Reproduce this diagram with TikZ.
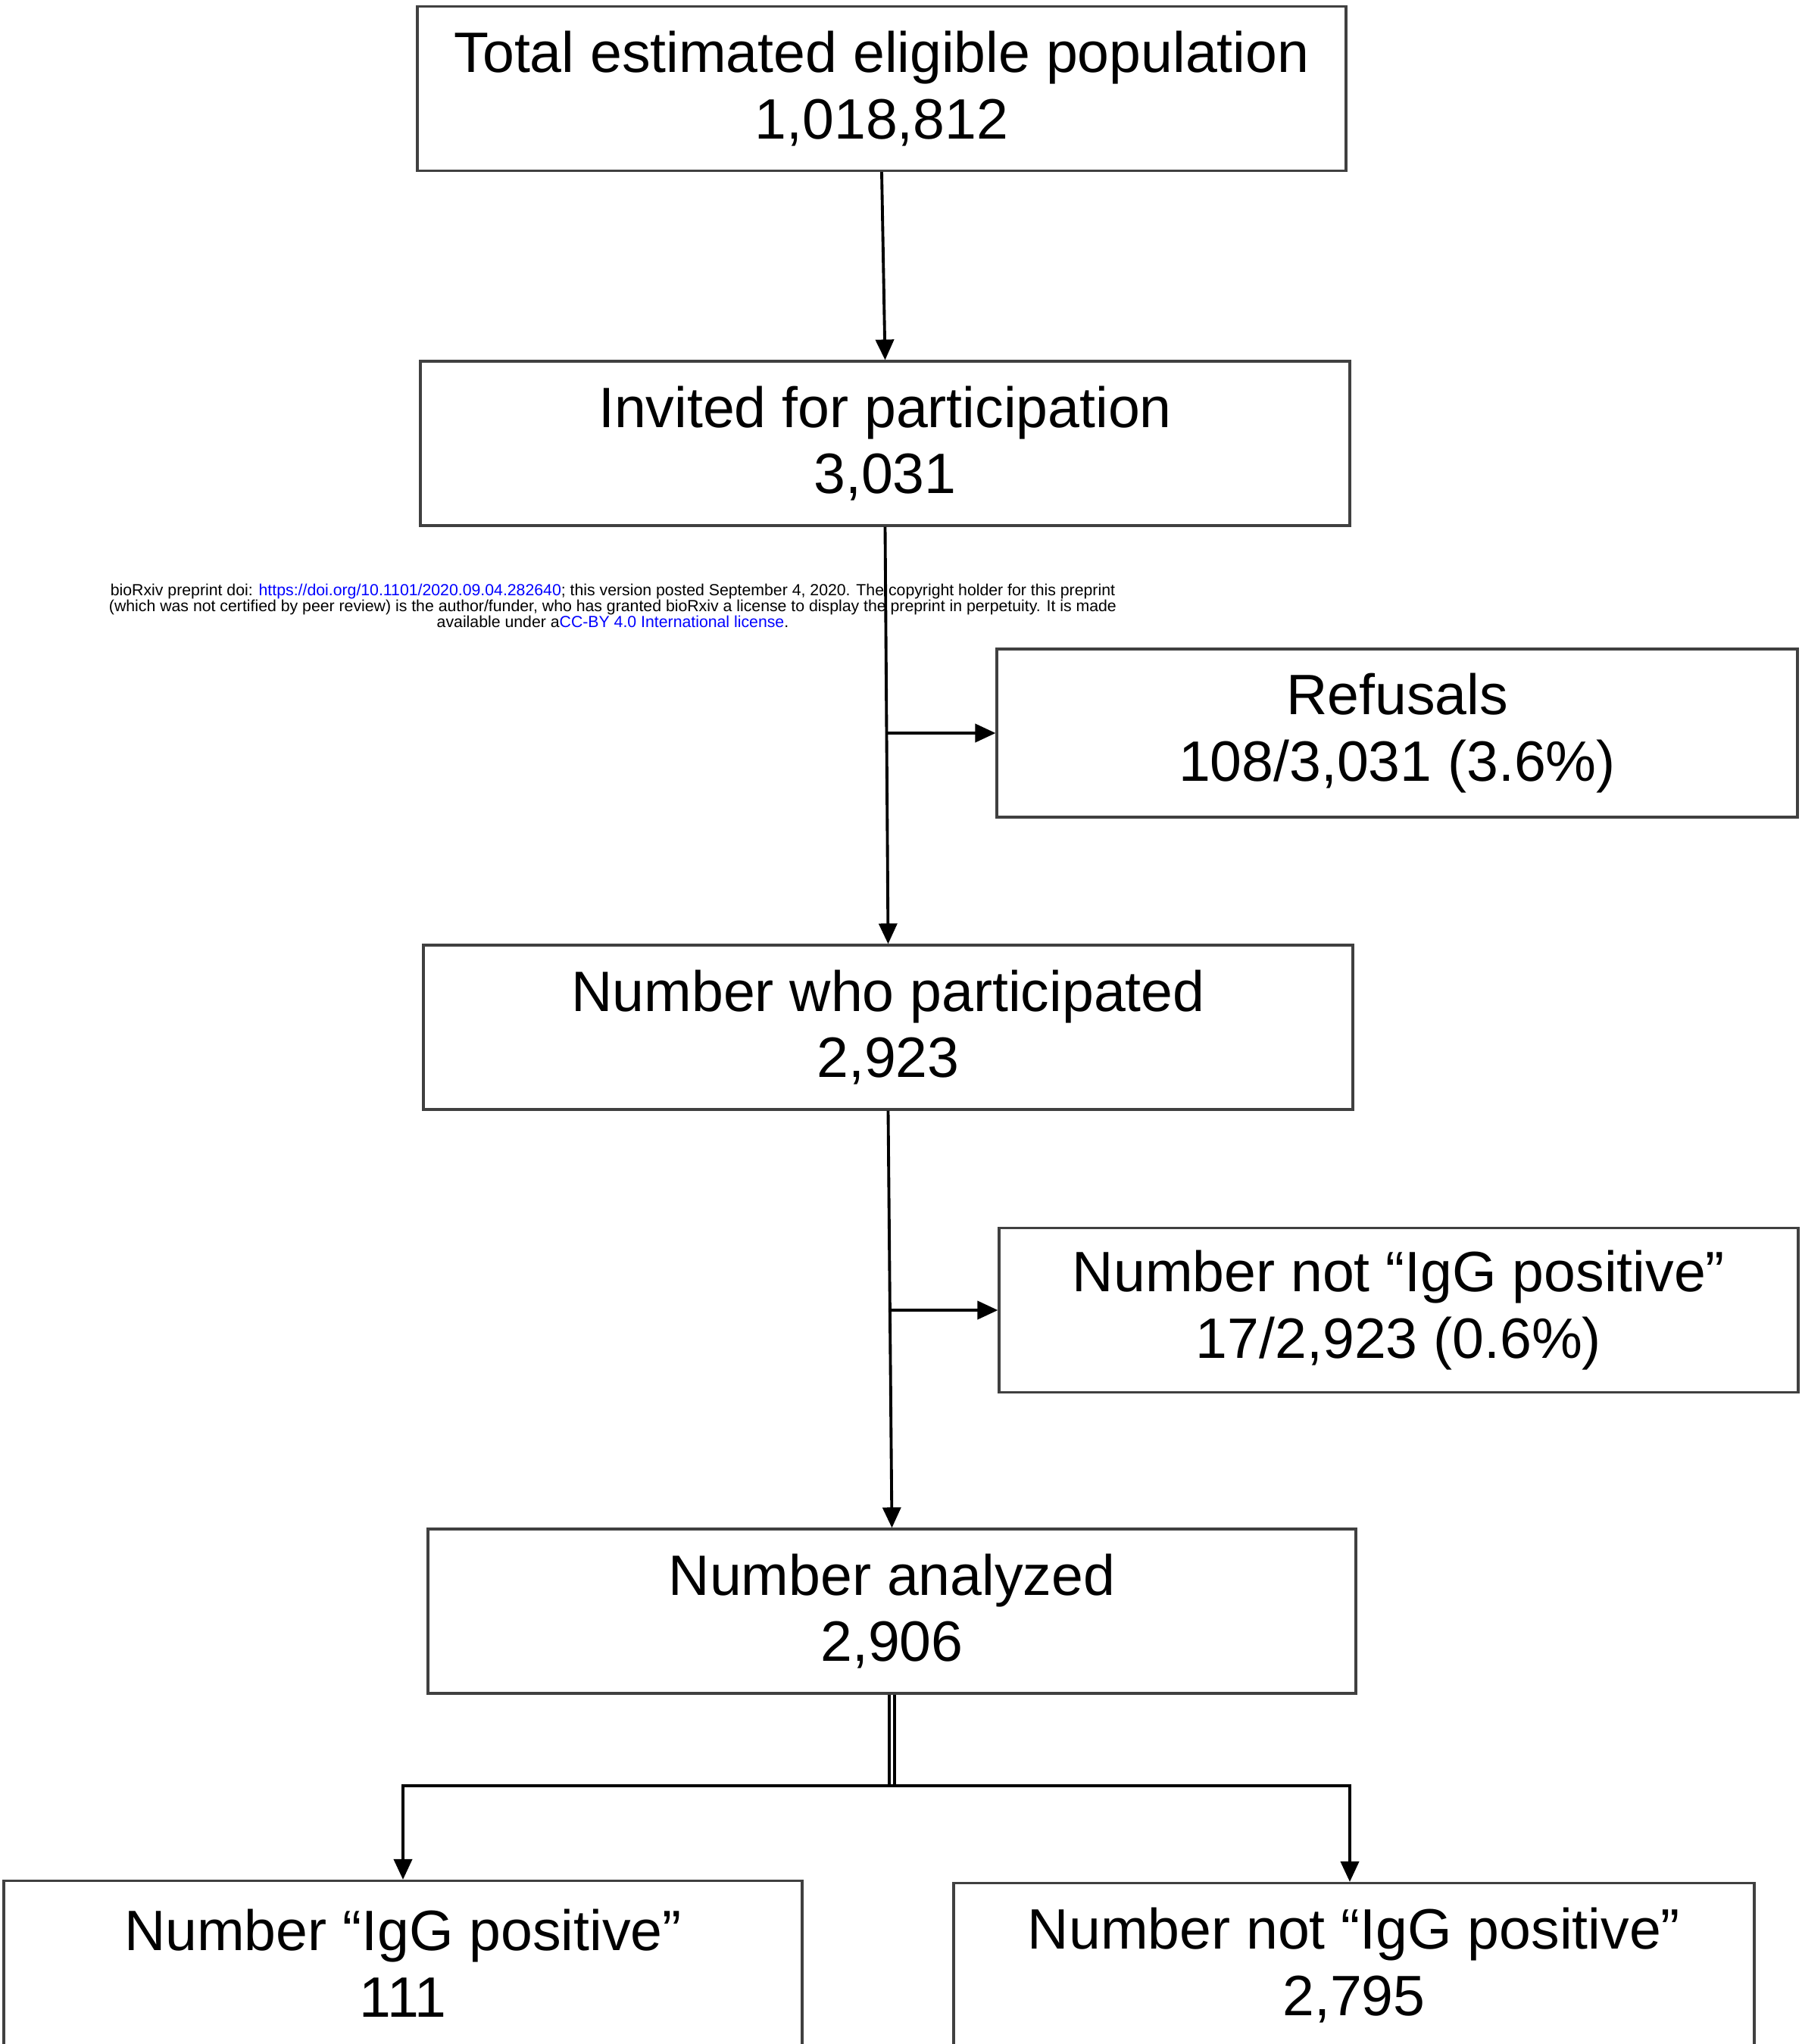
\documentclass[tikz,border=0pt]{standalone}
\usepackage{fontspec}
\setmainfont{Liberation Sans}
\usetikzlibrary{arrows.meta}
\begin{document}
\begin{tikzpicture}[
    flowbox/.style={rectangle, draw=black!75, line width=0.9pt, fill=white,
      minimum width=12.27cm, minimum height=2.17cm, align=center,
      inner sep=0pt, font=\fontsize{21.4}{25}\selectfont},
    sidebox/.style={flowbox, minimum width=10.57cm},
    line/.style={line width=1.1pt},
    arrow/.style={line, -{Triangle[length=0.27cm, width=0.24cm]}}
  ]
    \useasboundingbox (0,0) rectangle (23.79,-26.99);
    \clip (0,0) rectangle (23.79,-26.99);

    % Kopf
    \node[align=center, font=\fontsize{6.05}{5.95}\selectfont, inner sep=0pt]
      (header) at (8.09,-8.00)
      {bioRxiv preprint doi: \textcolor{blue}{https://doi.org/10.1101/2020.09.04.282640}; this version posted September 4, 2020. The copyright holder for this preprint\\
       (which was not certified by peer review) is the author/funder, who has granted bioRxiv a license to display the preprint in perpetuity. It is made\\
       available under a\textcolor{blue}{CC-BY 4.0 International license}.};

    % Kaesten
    \node[flowbox, minimum width=12.26cm] (eligible) at (11.64,-1.17)
      {Total estimated eligible population\\1,018,812};
    \node[flowbox] (invited) at (11.685,-5.855)
      {Invited for participation\\3,031};
    \node[sidebox, minimum height=2.22cm] (refusals) at (18.445,-9.68)
      {Refusals\\108/3,031 (3.6\%)};
    \node[flowbox] (participated) at (11.725,-13.565)
      {Number who participated\\2,923};
    \node[sidebox, minimum width=10.55cm] (notpositive) at (18.465,-17.30)
      {Number not “IgG positive”\\17/2,923 (0.6\%)};
    \node[flowbox, minimum width=12.25cm] (analyzed) at (11.775,-21.275)
      {Number analyzed\\2,906};
    \node[sidebox, minimum width=10.54cm] (igpos) at (5.32,-25.92)
      {Number “IgG positive”\\111};
    \node[sidebox] (igneg) at (17.875,-25.95)
      {Number not “IgG positive”\\2,795};

    % Verbindungen
    \draw[arrow] (eligible.south) -- (invited.north);
    \draw[arrow] (invited.south) -- (participated.north);
    \draw[arrow] (invited.south |- refusals.west) -- (refusals.west);
    \draw[arrow] (participated.south) -- (analyzed.north);
    \draw[arrow] (participated.south |- notpositive.west) -- (notpositive.west);
    \coordinate (split) at (analyzed.south |- 0,-23.58);
    \draw[line width=0.9pt, double, double distance=1.1pt] (analyzed.south) -- (split);
    \draw[arrow] (split) -| (igpos.north);
    \draw[arrow] (split) -| ([xshift=-0.055cm]igneg.north);
  \end{tikzpicture}
\end{document}
